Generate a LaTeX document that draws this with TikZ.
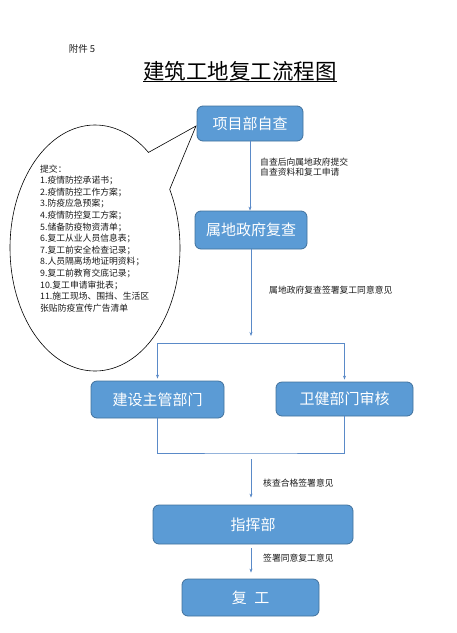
\documentclass[tikz,border=0pt]{standalone}
\usepackage{fontspec}
\setmainfont{Noto Sans CJK SC}
\usetikzlibrary{arrows.meta,calc}
\definecolor{boxfill}{HTML}{5B9BD5}
\definecolor{boxline}{HTML}{41719C}
\definecolor{linecol}{HTML}{5A8AC8}
\definecolor{txtcol}{HTML}{1A1A1A}
\begin{document}
\begin{tikzpicture}[x=1pt,y=-1pt,
  stepbox/.style={draw=boxline, line width=0.8pt, fill=boxfill, rounded corners=6pt,
    text=white, font=\fontsize{15}{18}\selectfont, inner sep=0pt},
  arr/.style={draw=linecol, line width=0.8pt, -{Stealth[length=4pt,width=3pt]}},
  conn/.style={draw=linecol, line width=0.8pt},
  lbl/.style={font=\fontsize{8.8}{10.5}\selectfont, anchor=west, inner sep=0pt, align=left, text=txtcol}]
\useasboundingbox (0,0) rectangle (457,633);

% header
\node[font=\fontsize{9.5}{11}\selectfont, text=txtcol, inner sep=0pt] (att) at (82,49) {附件 5};
\node[font=\fontsize{21.5}{26}\selectfont, inner sep=0pt] (title) at (240,71) {建筑工地复工流程图};
\draw[line width=1pt] ([yshift=-2.5pt]title.base west) -- ([yshift=-2.5pt]title.base east);

% callout ellipse
\coordinate (ctip) at (196,126);
\coordinate (ec) at (95,248);
\draw[black, line width=0.6pt, fill=white]
  (ctip) -- ([shift={(ec)}]51:85pt and 123pt)
  arc[start angle=51, end angle=388.5, x radius=85pt, y radius=123pt] -- cycle;
\node[anchor=north west, inner sep=0pt, align=left, text=txtcol,
      font=\fontsize{8.8}{11.6}\selectfont] (elist) at (40,164.5)
  {提交：\\1.疫情防控承诺书；\\2.疫情防控工作方案；\\3.防疫应急预案；\\4.疫情防控复工方案；\\5.储备防疫物资清单；\\6.复工从业人员信息表；\\7.复工前安全检查记录；\\8.人员隔离场地证明资料；\\9.复工前教育交底记录；\\10.复工申请审批表；\\11.施工现场、围挡、生活区\\张贴防疫宣传广告清单};

% boxes
\node[stepbox, minimum width=106pt, minimum height=35pt] (b1) at (250,123.5) {项目部自查};
\node[stepbox, minimum width=112pt, minimum height=38pt] (b2) at (251,230) {属地政府复查};
\node[stepbox, minimum width=133pt, minimum height=37pt] (b3) at (157.5,399.5) {建设主管部门};
\node[stepbox, minimum width=137pt, minimum height=34pt] (b4) at (344.5,399) {卫健部门审核};
\node[stepbox, minimum width=200pt, minimum height=39pt] (b5) at (253,524.5) {指挥部};
\node[stepbox, minimum width=137pt, minimum height=37pt] (b6) at (250.5,597.5) {复\hspace{0.5em}工};

% connectors
\draw[arr] (b1.south) -- (b1.south |- b2.north);
\coordinate (s1) at (251,336);
\draw[arr] (b2.south) -- (b2.south |- s1);
\coordinate (j1) at (251,343);
\draw[arr, shorten >=2pt] (j1) -| (b3.north);
\draw[arr, shorten >=2pt] (j1) -| (b4.north);
\coordinate (j2) at (251,453);
\draw[conn] (b3.south) |- (j2) -| (b4.south);
\coordinate (j3) at (251,459);
\draw[arr, shorten >=7pt] (j3) -- (j3 |- b5.north);
\draw[arr, shorten <=4pt, shorten >=6pt] (b5.south -| j3) -- (b6.north -| j3);

% labels
\node[lbl] (l1) at (260,167) {自查后向属地政府提交\\自查资料和复工申请};
\node[lbl] (l2) at (269,290) {属地政府复查签署复工同意意见};
\node[lbl] (l3) at (263,483) {核查合格签署意见};
\node[lbl] (l4) at (263,558) {签署同意复工意见};
\end{tikzpicture}
\end{document}
